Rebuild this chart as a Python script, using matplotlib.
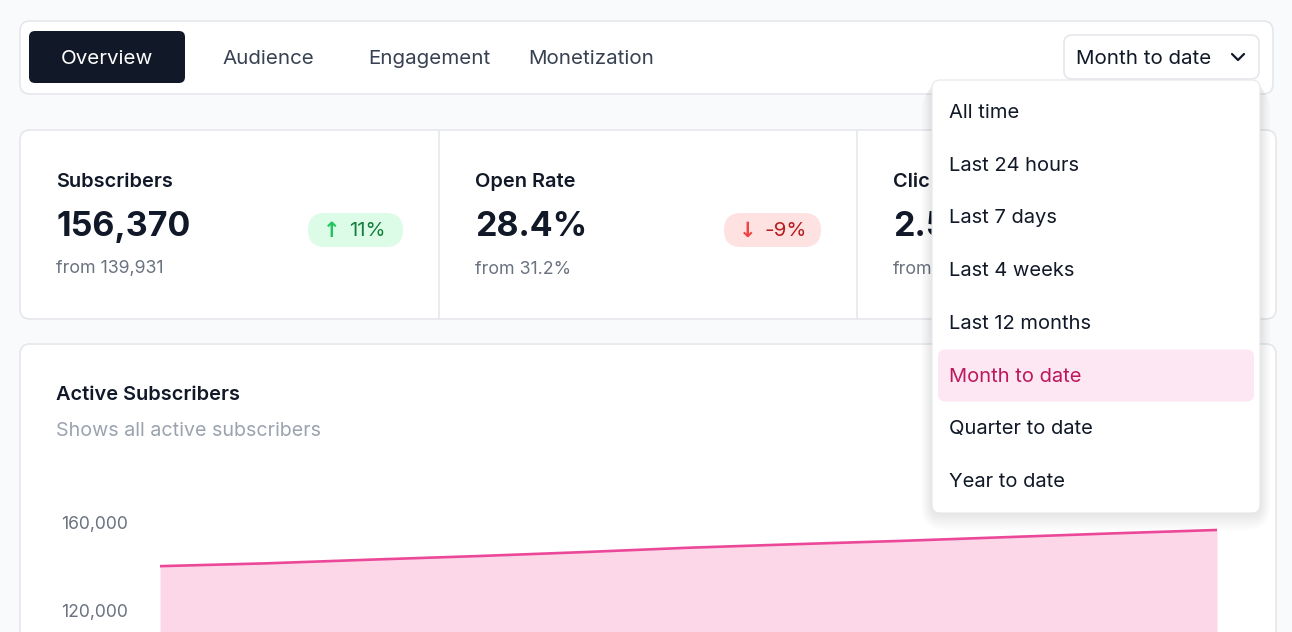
import numpy as np
import matplotlib.pyplot as plt
from matplotlib.patches import FancyBboxPatch

plt.rcParams['font.family'] = ['Inter', 'DejaVu Sans']

# ---- data ----
tabs = ["Overview", "Audience", "Engagement", "Monetization"]
tab_x = [107, 268, 429, 591]
periods = ["All time", "Last 24 hours", "Last 7 days", "Last 4 weeks",
           "Last 12 months", "Month to date", "Quarter to date", "Year to date"]
selected = "Month to date"

# third card is mostly hidden under the open dropdown
kpi_titles = ["Subscribers", "Open Rate", "Clic"]
kpi_values = ["156,370", "28.4%", "2.5"]
kpi_prev = ["from 139,931", "from 31.2%", "from"]
kpi_change = ["11%", "-9%", None]
kpi_up = [True, False, None]

days = np.arange(1, 12)
subscribers = [139931, 141200, 142900, 144500, 146300, 148300,
               149900, 151400, 153100, 154800, 156370]
y_ticks = [120000, 160000]

W, H = 1292, 632
fig = plt.figure(figsize=(W / 100, H / 100), dpi=100)
fig.patch.set_facecolor('#f9fafb')

bg = fig.add_axes([0, 0, 1, 1], zorder=0)
bg.set_xlim(0, W); bg.set_ylim(H, 0); bg.axis('off')


def box(ax, x0, y0, x1, y1, r, fc, ec='none', lw=1.0, z=1, alpha=1.0):
    p = FancyBboxPatch((x0, y0), x1 - x0, y1 - y0,
                       boxstyle=f"round,pad=0,rounding_size={r}",
                       fc=fc, ec=ec, lw=lw, zorder=z, alpha=alpha)
    ax.add_patch(p)
    return p


dark = '#111827'
# nav bar
box(bg, 20, 21, 1273, 94, 10, 'white', '#e5e7eb', 1.2)
box(bg, 29, 31, 185, 83, 6, dark, z=2)
for i, (t, x) in enumerate(zip(tabs, tab_x)):
    bg.text(x, 58.5, t, ha='center', va='center', fontsize=14.8,
            color='white' if i == 0 else '#374151', zorder=3)
box(bg, 1064, 35, 1259, 79, 8, 'white', '#e5e7eb', 1.2, z=2)
bg.text(1076, 58.5, selected, ha='left', va='center', fontsize=14.8, color=dark, zorder=3)
bg.plot([1232, 1238, 1244], [54, 60, 54], color=dark, lw=1.6,
        solid_capstyle='round', zorder=3)

# kpi card
box(bg, 20, 130, 1276, 319, 10, 'white', '#e5e7eb', 1.2)
for xd in [439, 857]:
    bg.plot([xd, xd], [131, 318], color='#e5e7eb', lw=1.2, zorder=2)
kx = [56, 475, 893]
badge = [(308, 403), (724, 821)]
for i in range(3):
    bg.text(kx[i], 182, kpi_titles[i], ha='left', va='center', fontsize=14.4,
            color=dark, fontweight='semibold', zorder=3)
    bg.text(kx[i], 227, kpi_values[i], ha='left', va='center', fontsize=24.5,
            color=dark, fontweight='bold', zorder=3)
    bg.text(kx[i], 269, kpi_prev[i], ha='left', va='center', fontsize=12.8,
            color='#6b7280', zorder=3)
    if kpi_change[i] is None:
        continue
    b0, b1 = badge[i]
    fc, tc, ac = ('#dcfce7', '#15803d', '#22c55e') if kpi_up[i] else ('#fee2e2', '#b91c1c', '#ef4444')
    box(bg, b0, 213, b1, 247, 17, fc, z=2)
    bg.text(b0 + 24, 231, '↑' if kpi_up[i] else '↓', ha='center', va='center',
            fontsize=15, color=ac, fontweight='bold', zorder=3,
            family=['DejaVu Sans'])
    bg.text(b0 + 41, 231, kpi_change[i], ha='left', va='center', fontsize=14.8,
            color=tc, zorder=3)

# chart card
box(bg, 20, 344, 1276, 700, 10, 'white', '#e5e7eb', 1.2)
bg.text(56, 395, "Active Subscribers", ha='left', va='center', fontsize=14.4,
        color=dark, fontweight='semibold', zorder=3)
bg.text(56, 431, "Shows all active subscribers", ha='left', va='center',
        fontsize=14.2, color='#9ca3af', zorder=3)

# chart axes: 160,000 at y=522px, 120,000 at y=610px
ppv = 88 / 40000
top_px = 470
ylo = 160000 - (H - 522) / ppv
yhi = 160000 + (522 - top_px) / ppv
ax = fig.add_axes([160 / W, 0, 1057 / W, (H - top_px) / H], zorder=1)
ax.patch.set_alpha(0)
ax.fill_between(days, subscribers, ylo, color='#fcd7e8', lw=0)
ax.plot(days, subscribers, color='#ec4899', lw=1.9)
ax.set_xlim(days[0], days[-1])
ax.set_ylim(ylo, yhi)
ax.set_yticks(y_ticks)
ax.set_yticklabels([f"{v:,}" for v in y_ticks])
ax.set_xticks([])
ax.tick_params(axis='y', length=0, pad=23, labelsize=12.6, labelcolor='#6b7280')
for s in ax.spines.values():
    s.set_visible(False)

# dropdown overlay
ov = fig.add_axes([0, 0, 1, 1], zorder=5)
ov.set_xlim(0, W); ov.set_ylim(H, 0); ov.axis('off')
ov.patch.set_alpha(0)
for k in range(8):
    g = 2 + k * 2.2
    box(ov, 932 - g * 0.6, 80 + g * 0.3, 1260 + g * 0.6, 513 + g, 8 + g,
        '#000000', z=1, alpha=0.010)
box(ov, 932, 80, 1260, 513, 8, 'white', '#e5e7eb', 0.8, z=2)
item_y = 112 + np.arange(len(periods)) * 52.7
for p, yy in zip(periods, item_y):
    if p == selected:
        box(ov, 938, yy - 26, 1254, yy + 26, 7, '#fce7f3', z=3)
    ov.text(949, yy + 1, p, ha='left', va='center', fontsize=14.5,
            color='#be185d' if p == selected else dark, zorder=4)

fig.savefig('out.png', dpi=100, facecolor=fig.get_facecolor())
